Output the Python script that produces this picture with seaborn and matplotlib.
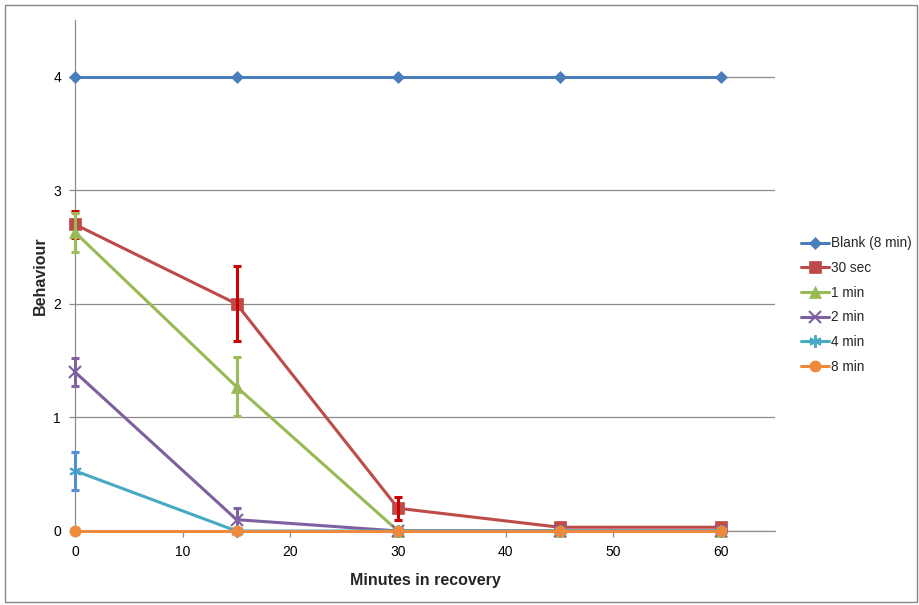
import numpy as np
import pandas as pd
import matplotlib
matplotlib.use("Agg")
import matplotlib.pyplot as plt
from matplotlib.patches import Rectangle
import seaborn as sns

# Recovery time points (minutes)
minutes = [0, 15, 30, 45, 60]

# Mean behaviour score per exposure group
series_names = ["Blank (8 min)", "30 sec", "1 min", "2 min", "4 min", "8 min"]
blank = [4, 4, 4, 4, 4]
sec30 = [2.7, 2.0, 0.2, 0.033, 0.033]
min1 = [2.63, 1.27, 0, 0, 0]
min2 = [1.4, 0.1, 0, 0, 0]
min4 = [0.53, 0, 0, 0, 0]
min8 = [0, 0, 0, 0, 0]

# Error bar half-widths
blank_err = [0, 0, 0, 0, 0]
sec30_err = [0.12, 0.33, 0.1, 0, 0]
min1_err = [0.17, 0.26, 0, 0, 0]
min2_err = [0.12, 0.1, 0, 0, 0]
min4_err = [0.17, 0, 0, 0, 0]
min8_err = [0, 0, 0, 0, 0]

y_ticks = [0, 1, 2, 3, 4]
x_ticks = [0, 10, 20, 30, 40, 50, 60]

values = [blank, sec30, min1, min2, min4, min8]
errors = [blank_err, sec30_err, min1_err, min2_err, min4_err, min8_err]

line_colors = ["#4A7EBB", "#BE4B48", "#98B954", "#7D60A0", "#46AAC5", "#EE8A3E"]
err_colors = ["#4A7EBB", "#CC0000", "#9BBB59", "#8064A2", "#558ED5", "#EE8A3E"]
markers = ["D", "s", "^", "x", (6, 2, 0), "o"]
marker_sizes = [6, 8, 8, 8, 9, 8]

sns.set_theme(style="white")
plt.rcParams["font.family"] = ["Liberation Sans", "DejaVu Sans"]

fig = plt.figure(figsize=(9.2, 6.05), dpi=100)
ax = fig.add_axes([75 / 920, 1 - 531 / 605, 700 / 920, 511 / 605])

records = []
for name, vals in zip(series_names, values):
    for m, v in zip(minutes, vals):
        records.append({"Minutes": m, "Behaviour": v, "Series": name})
df = pd.DataFrame(records)

for i, name in enumerate(series_names):
    sub = df[df["Series"] == name]
    thin_marker = markers[i] in ("x", (6, 2, 0))
    sns.lineplot(data=sub, x="Minutes", y="Behaviour", ax=ax,
                 color=line_colors[i], linewidth=2.2,
                 marker=markers[i], markersize=marker_sizes[i],
                 markeredgecolor=line_colors[i],
                 markeredgewidth=1.5 if thin_marker else 0.5,
                 label=name, zorder=3 + i, clip_on=False)
    err = np.array(errors[i])
    mask = err > 0
    if mask.any():
        eb = ax.errorbar(np.array(minutes)[mask], np.array(values[i])[mask],
                         yerr=err[mask], fmt="none", ecolor=err_colors[i],
                         elinewidth=2.2, capsize=3, capthick=2.2, zorder=3 + i)
        for art in eb.lines[1] + eb.lines[2]:
            art.set_clip_on(False)

ax.set_xlim(0, 65)
ax.set_ylim(0, 4.5)
ax.set_xticks(x_ticks)
ax.set_yticks(y_ticks)
ax.grid(axis="y", color="#8C8C8C", linewidth=0.9)
ax.grid(axis="x", visible=False)
ax.set_axisbelow(True)
for side in ["top", "right"]:
    ax.spines[side].set_visible(False)
for side in ["left", "bottom"]:
    ax.spines[side].set_color("#8C8C8C")
    ax.spines[side].set_linewidth(0.9)
ax.tick_params(axis="both", which="both", length=4, width=0.9, color="#8C8C8C",
               labelsize=10, labelcolor="black", pad=6)
ax.tick_params(axis="x", direction="out", bottom=True)
ax.tick_params(axis="y", direction="out", left=True)
ax.set_xlabel("Minutes in recovery", fontsize=11.5, fontweight="bold", labelpad=10)
ax.set_ylabel("Behaviour", fontsize=11.5, fontweight="bold", labelpad=4)

handles, labels = ax.get_legend_handles_labels()
if ax.legend_:
    ax.legend_.remove()
fig.legend(handles, labels, loc="center left", bbox_to_anchor=(796 / 920, 1 - 305 / 605),
           frameon=False, fontsize=9.8, handlelength=2.0, handletextpad=0.2,
           labelspacing=0.78, borderaxespad=0)

# Chart area border
fig.patches.append(Rectangle((5 / 920, 3 / 605), 912 / 920, 597 / 605,
                             transform=fig.transFigure, fill=False,
                             edgecolor="#868686", linewidth=1))

fig.savefig("out.png", dpi=100)
